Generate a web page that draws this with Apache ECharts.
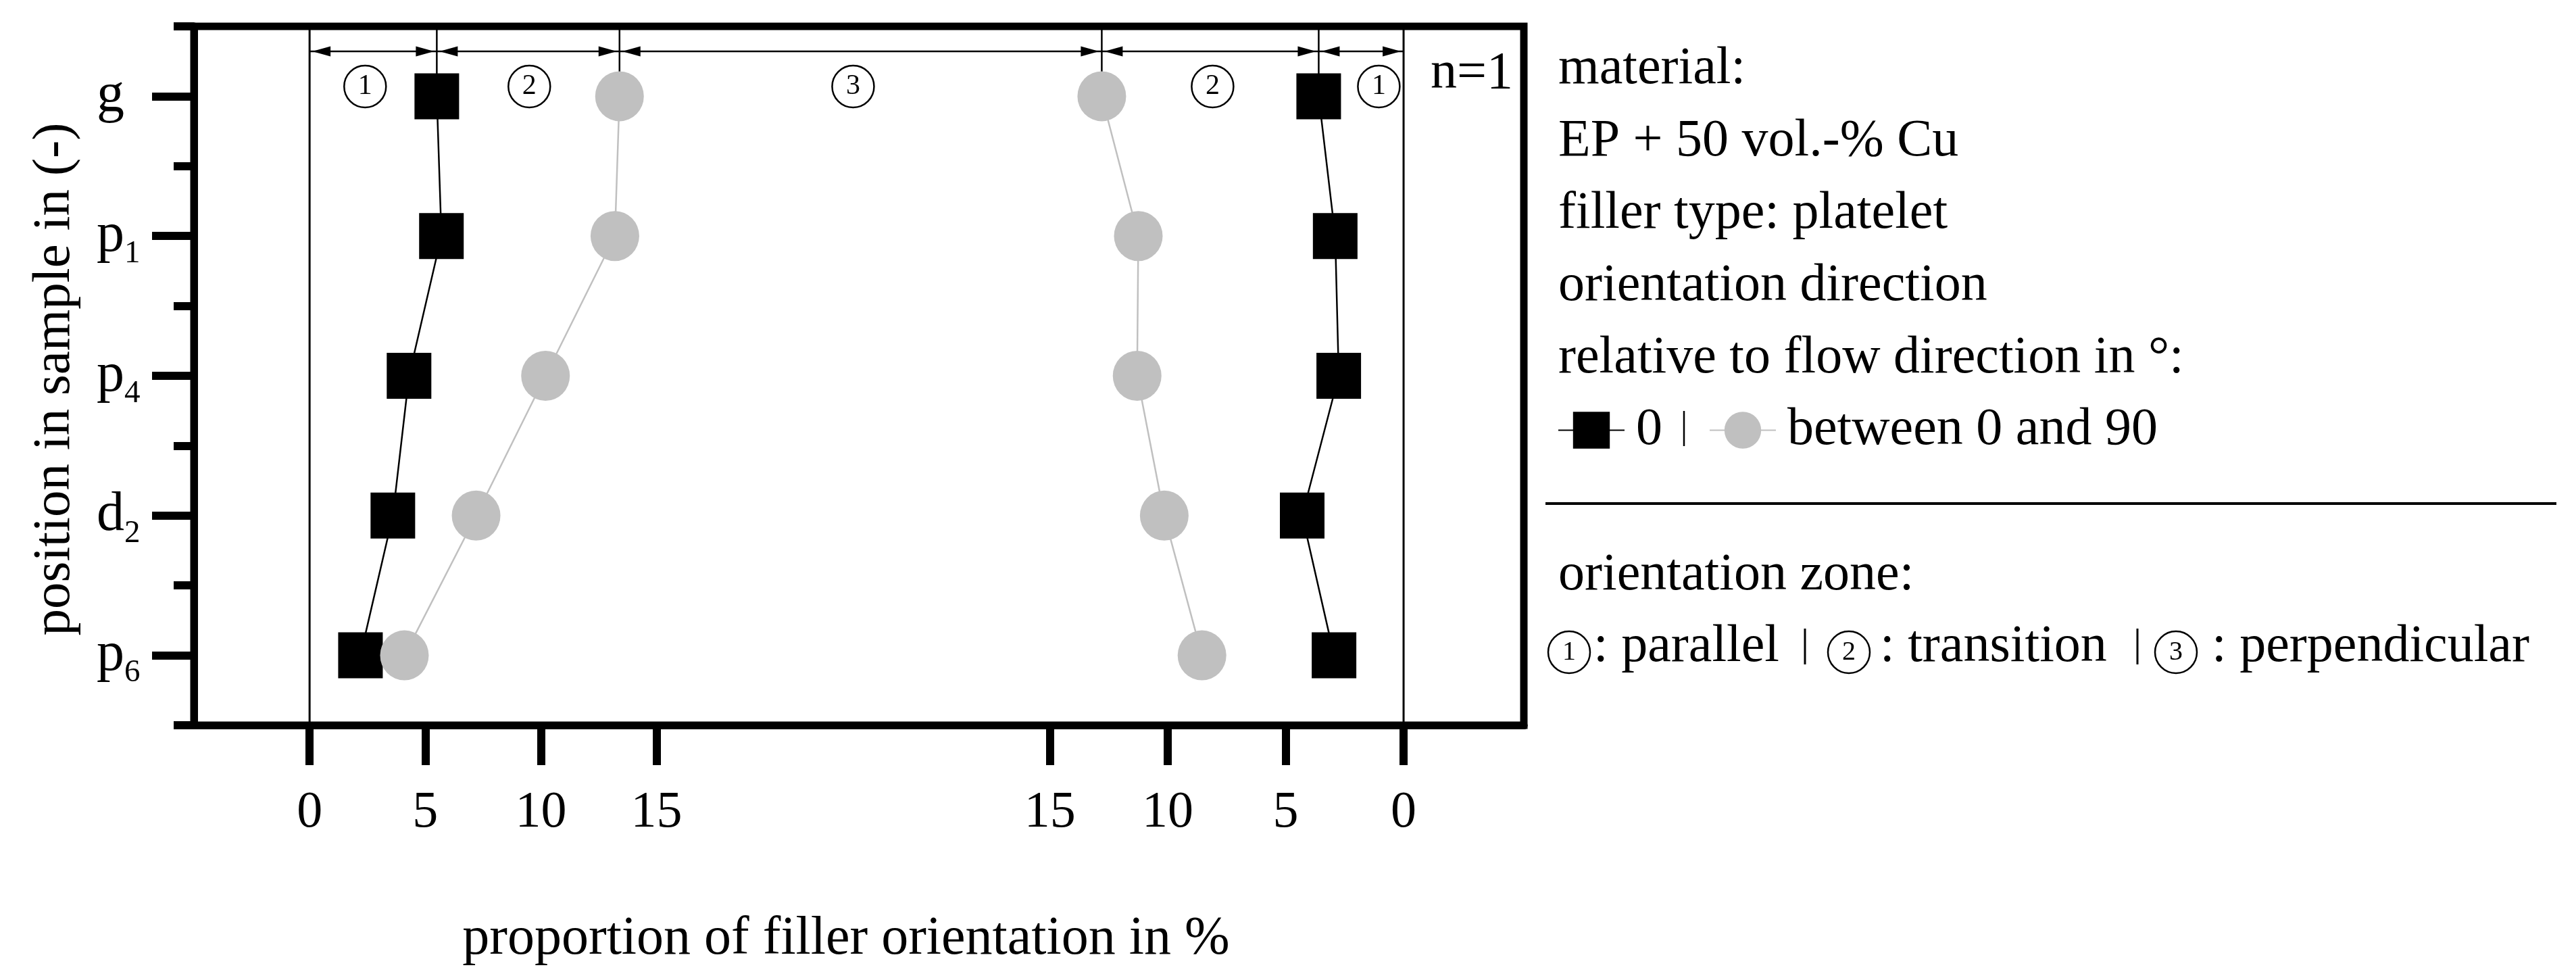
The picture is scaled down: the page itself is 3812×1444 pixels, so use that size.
<!DOCTYPE html>
<html>
<head>
<meta charset="utf-8">
<script src="https://cdn.jsdelivr.net/npm/echarts@6/dist/echarts.min.js"></script>
<style>
  html, body { margin: 0; padding: 0; background: #fff; }
  #chart { width: 3812px; height: 1444px; }
</style>
</head>
<body>
<div id="chart"></div>
<script>
// position in sample, top to bottom
const positions = ['g', 'p1', 'p4', 'd2', 'p6'];
// left half (axis 0 -> 15)
const blackLeft = [5.5, 5.7, 4.3, 3.6, 2.2];
const grayLeft = [13.4, 13.2, 10.2, 7.2, 4.1];
// right half (axis runs backwards 15 -> 0)
const grayRight = [12.8, 11.25, 11.3, 10.15, 8.55];
const blackRight = [3.6, 2.9, 2.75, 4.3, 2.95];
const xTicks = [0, 5, 10, 15];
const zoneNames = ['1', '2', '3', '2', '1'];
const zoneTypes = ['parallel', 'transition', 'perpendicular'];

const infoLines = [
    'material:',
    'EP + 50 vol.-% Cu',
    'filler type: platelet',
    'orientation direction',
    'relative to flow direction in \u00b0:'
];

const FONT = 'Liberation Serif';

// where the circled zone numbers sit: [x axis, value]
const zoneAt = [[0, 2.4], [0, 9.5], [0, 23.5], [1, 8.1], [1, 1.05]];

let chart = echarts.init(document.querySelector('#chart'), null, { renderer: 'canvas' });

//subindice para p1, d2...
function subLabel(v) {
    return v.length > 1 ? v[0] + '{s|' + v.slice(1) + '}' : v;
}

function txt(x, y, text, size) {
    return {
        type: 'text', x: x, y: y,
        style: { text: text, fontSize: size || 78, fontFamily: FONT, fill: '#000', align: 'left', verticalAlign: 'middle' }
    };
}

// zone borders, arrows and circled numbers
function drawZones(params, api) {
    let cs = params.coordSys;
    let top = cs.y;
    let bottom = cs.y + cs.height;
    let toX = (axis, v) => {
        if (axis === 0) return api.coord([v, 0])[0];
        let p = chart.convertToPixel({ xAxisIndex: 1, yAxisIndex: 0 }, [v, 0]);
        return p ? p[0] : NaN;
    };
    let gy = api.coord([0, 0])[1];
    let arrowY = top + 37;
    let labelY = top + 89;
    let edges = [
        toX(0, 0), toX(0, blackLeft[0]), toX(0, grayLeft[0]),
        toX(1, grayRight[0]), toX(1, blackRight[0]), toX(1, 0)
    ];
    let kids = [];

    [edges[0], edges[5]].forEach(x => {
        kids.push({ type: 'line', shape: { x1: x, y1: top, x2: x, y2: bottom }, style: { stroke: '#000', lineWidth: 3 } });
    });
    edges.slice(1, 5).forEach(x => {
        kids.push({ type: 'line', shape: { x1: x, y1: top, x2: x, y2: gy }, style: { stroke: '#000', lineWidth: 2.5 } });
    });

    kids.push({ type: 'line', shape: { x1: edges[0], y1: arrowY, x2: edges[5], y2: arrowY }, style: { stroke: '#000', lineWidth: 2.5 } });
    for (let i = 0; i < 5; i++) {
        let a = edges[i] + 4;
        let b = edges[i + 1] - 4;
        kids.push({ type: 'polygon', shape: { points: [[a, arrowY], [a + 27, arrowY - 7.5], [a + 27, arrowY + 7.5]] }, style: { fill: '#000' } });
        kids.push({ type: 'polygon', shape: { points: [[b, arrowY], [b - 27, arrowY - 7.5], [b - 27, arrowY + 7.5]] }, style: { fill: '#000' } });
    }

    zoneAt.forEach((z, i) => {
        let x = toX(z[0], z[1]);
        kids.push({ type: 'circle', shape: { cx: x, cy: labelY, r: 31 }, style: { fill: '#fff', stroke: '#000', lineWidth: 2.5 } });
        kids.push({
            type: 'text', x: x, y: labelY,
            style: { text: zoneNames[i], fontSize: 42, fontFamily: FONT, fill: '#000', align: 'center', verticalAlign: 'middle' }
        });
    });

    return { type: 'group', children: kids };
}

function side(name, vals, axis, symbol, size, color) {
    return {
        name: name,
        type: 'line',
        xAxisIndex: axis,
        yAxisIndex: 0,
        data: vals.map((v, i) => [v, positions[i]]),
        symbol: symbol,
        symbolSize: size,
        itemStyle: { color: color, opacity: 1 },
        lineStyle: { color: color, width: 2.5 },
        z: 3,
        silent: true
    };
}

let tickStyle = { color: '#000', width: 12 };
let frameLine = { show: true, onZero: false, lineStyle: { color: '#000', width: 11 } };
let labelFont = { fontSize: 76, fontFamily: FONT, color: '#000' };

// zone legend pieces (circle centre x, text start x, separator x)
let zoneLegend = [];
[[2322, 2358, 2671], [2736, 2782, 3163], [3220, 3273, null]].forEach((p, i) => {
    zoneLegend.push({ type: 'circle', shape: { cx: p[0], cy: 965, r: 31 }, style: { fill: '#fff', stroke: '#000', lineWidth: 2.5 } });
    zoneLegend.push({
        type: 'text', x: p[0], y: 965,
        style: { text: String(i + 1), fontSize: 40, fontFamily: FONT, fill: '#000', align: 'center', verticalAlign: 'middle' }
    });
    zoneLegend.push(txt(p[1], 958, ': ' + zoneTypes[i]));
    if (p[2]) {
        zoneLegend.push({ type: 'line', shape: { x1: p[2], y1: 930, x2: p[2], y2: 983 }, style: { stroke: '#000', lineWidth: 3 } });
    }
});

let option = {
    animation: false,
    backgroundColor: '#fff',
    grid: {
        left: 287, top: 39, width: 1968, height: 1034,
        show: true, borderColor: '#000', borderWidth: 11,
        backgroundColor: 'transparent',
        containLabel: false, outerBoundsMode: 'none'
    },
    legend: {
        left: 2305, top: 597.5, padding: 0,
        orient: 'horizontal',
        itemWidth: 98, itemHeight: 68, itemGap: 69,
        selectedMode: false,
        data: ['0', 'between 0 and 90'],
        textStyle: { fontSize: 78, fontFamily: FONT, color: '#000', lineHeight: 68, padding: [0, 0, 0, 12] }
    },
    xAxis: [
        {
            type: 'value', position: 'bottom', min: -5, max: 52.5,
            axisLine: frameLine, splitLine: { show: false },
            axisTick: { show: true, customValues: xTicks, length: 59, lineStyle: tickStyle },
            axisLabel: Object.assign({ show: true, customValues: xTicks, margin: 92 }, labelFont),
            name: 'proportion of filler orientation in %',
            nameLocation: 'middle', nameGap: 277, nameMoveOverlap: false,
            nameTextStyle: { fontSize: 80, fontFamily: FONT, color: '#000', padding: [0, 38, 0, 0] }
        },
        {
            type: 'value', position: 'bottom', inverse: true, min: -5.1, max: 51.3,
            axisLine: frameLine, splitLine: { show: false },
            axisTick: { show: true, customValues: xTicks, length: 59, lineStyle: tickStyle },
            axisLabel: Object.assign({ show: true, customValues: xTicks, margin: 92 }, labelFont)
        }
    ],
    yAxis: [
        {
            type: 'category', data: positions, inverse: true, position: 'left',
            axisLine: frameLine,
            axisTick: { show: true, alignWithLabel: true, length: 62, lineStyle: tickStyle },
            axisLabel: {
                show: true, margin: 144, align: 'left', fontSize: 82, lineHeight: 100,
                fontFamily: FONT, color: '#000', formatter: subLabel,
                rich: { s: { fontSize: 47, lineHeight: 47, verticalAlign: 'bottom', fontFamily: FONT, color: '#000' } }
            },
            name: 'position in sample in (-)',
            nameLocation: 'middle', nameRotate: 90, nameGap: 166, nameMoveOverlap: false,
            nameTextStyle: { fontSize: 79, fontFamily: FONT, color: '#000', padding: [0, 10, 0, 0] }
        },
        {
            type: 'category', data: positions, inverse: true, position: 'left',
            axisLine: frameLine,
            axisTick: { show: true, length: 30, lineStyle: tickStyle },
            axisLabel: { show: false }
        }
    ],
    graphic: [
        txt(2117, 110, 'n=1'),
        ...infoLines.map((t, i) => txt(2306, 103 + i * 107, t)),
        { type: 'line', shape: { x1: 2492, y1: 608, x2: 2492, y2: 660 }, style: { stroke: '#000', lineWidth: 2.5 } },
        { type: 'line', shape: { x1: 2287, y1: 745, x2: 3783, y2: 745 }, style: { stroke: '#000', lineWidth: 4 } },
        txt(2306, 852, 'orientation zone:'),
        ...zoneLegend
    ],
    series: [
        {
            type: 'custom', xAxisIndex: 0, yAxisIndex: 0,
            data: [[0, 0]], renderItem: drawZones, z: 1, silent: true
        },
        side('0', blackLeft, 0, 'rect', [66, 68], '#000'),
        side('0', blackRight, 1, 'rect', [66, 68], '#000'),
        side('between 0 and 90', grayLeft, 0, 'circle', [72, 74], '#c0c0c0'),
        side('between 0 and 90', grayRight, 1, 'circle', [72, 74], '#c0c0c0')
    ]
};

chart.setOption(option);
</script>
</body>
</html>
